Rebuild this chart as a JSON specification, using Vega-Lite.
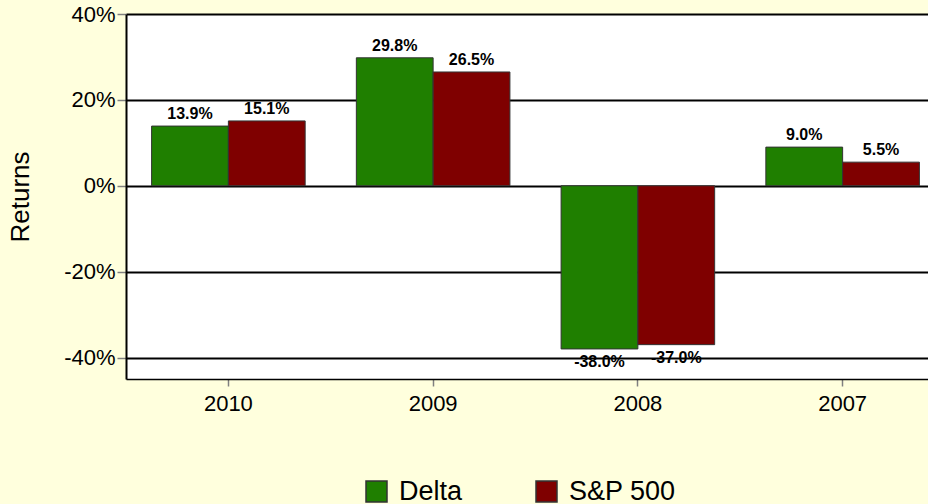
{
  "$schema": "https://vega.github.io/schema/vega-lite/v6.json",
  "width": 802,
  "height": 365,
  "autosize": {"type": "none"},
  "padding": {"left": 126, "top": 14, "right": 0, "bottom": 125},
  "background": "#FFFFDD",
  "config": {
    "view": {"stroke": null, "fill": "white"},
    "font": "Liberation Sans"
  },
  "data": {
    "values": [
      {"year": "2010", "series": "Delta", "value": 0.139},
      {"year": "2010", "series": "S&P 500", "value": 0.151},
      {"year": "2009", "series": "Delta", "value": 0.298},
      {"year": "2009", "series": "S&P 500", "value": 0.265},
      {"year": "2008", "series": "Delta", "value": -0.380},
      {"year": "2008", "series": "S&P 500", "value": -0.370},
      {"year": "2007", "series": "Delta", "value": 0.090},
      {"year": "2007", "series": "S&P 500", "value": 0.055}
    ]
  },
  "transform": [
    {"calculate": "replace(format(datum.value, '.1%'), '\u2212', '-')", "as": "label"}
  ],
  "encoding": {
    "x": {
      "field": "year",
      "type": "nominal",
      "sort": ["2010", "2009", "2008", "2007"],
      "scale": {"range": [0, 819], "paddingInner": 0.25, "paddingOuter": 0.125},
      "axis": {
        "title": null,
        "labelAngle": 0,
        "labelFontSize": 22,
        "labelColor": "#000000",
        "labelPadding": 7,
        "domainColor": "#000000",
        "domainWidth": 1.5,
        "tickColor": "#808080",
        "tickWidth": 1.5,
        "tickSize": 7
      }
    },
    "xOffset": {"field": "series", "type": "nominal", "scale": {"paddingInner": 0, "paddingOuter": 0}},
    "y": {
      "field": "value",
      "type": "quantitative",
      "scale": {"domain": [-0.45, 0.40], "nice": false, "zero": false},
      "axis": {
        "title": "Returns",
        "titleFontSize": 26,
        "titleFontWeight": "normal",
        "titleColor": "#000000",
        "titlePadding": 30,
        "values": [-0.4, -0.2, 0, 0.2, 0.4],
        "format": ".0%",
        "labelExpr": "replace(datum.label, '\u2212', '-')",
        "labelFontSize": 22,
        "labelColor": "#000000",
        "labelPadding": 2,
        "grid": true,
        "gridColor": "#000000",
        "gridWidth": 2,
        "gridOpacity": 1,
        "domainColor": "#000000",
        "domainWidth": 2,
        "tickColor": "#808080",
        "tickWidth": 1.5,
        "tickSize": 9
      }
    }
  },
  "layer": [
    {
      "mark": {"type": "bar", "stroke": "#333333", "strokeWidth": 1},
      "encoding": {
        "color": {
          "field": "series",
          "type": "nominal",
          "scale": {"domain": ["Delta", "S&P 500"], "range": ["#1F7F00", "#7F0000"]},
          "legend": {
            "title": null,
            "orient": "none",
            "legendX": 237,
            "legendY": 464,
            "direction": "horizontal",
            "symbolType": "square",
            "symbolSize": 441,
            "symbolStrokeColor": "#333333",
            "symbolStrokeWidth": 1.5,
            "symbolOpacity": 1,
            "labelFontSize": 27,
            "labelColor": "#000000",
            "labelOffset": 9,
            "columnPadding": 70
          }
        }
      }
    },
    {
      "transform": [{"filter": "datum.value >= 0"}],
      "mark": {"type": "text", "fontWeight": "bold", "fontSize": 16, "baseline": "alphabetic", "dy": -7, "color": "#000000"},
      "encoding": {"text": {"field": "label", "type": "nominal"}}
    },
    {
      "transform": [{"filter": "datum.value < 0"}],
      "mark": {"type": "text", "fontWeight": "bold", "fontSize": 16, "baseline": "alphabetic", "dy": 18, "color": "#000000"},
      "encoding": {"text": {"field": "label", "type": "nominal"}}
    }
  ]
}
